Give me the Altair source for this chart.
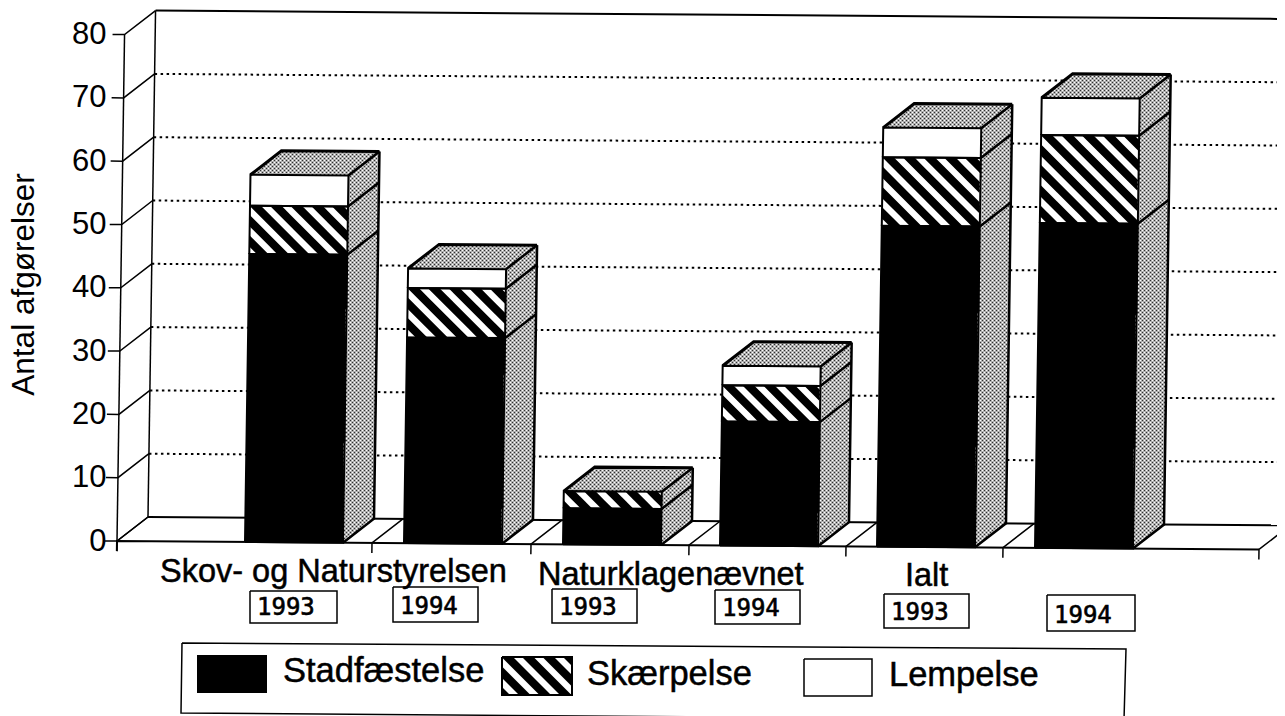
import altair as alt
import pandas as pd

# ---- chart values ----
years = ["1993", "1994", "1993", "1994", "1993", "1994"]
groups = ["Skov- og Naturstyrelsen", "Naturklagenævnet", "Ialt"]
series = ["Stadfæstelse", "Skærpelse", "Lempelse"]
stadfaestelse = [45.5, 32.5, 5.7, 19.6, 50.7, 51.3]
skaerpelse = [7.6, 7.8, 2.7, 5.7, 10.8, 13.9]
lempelse = [4.9, 3.1, 0.0, 3.1, 4.7, 5.9]
y_ticks = [0, 10, 20, 30, 40, 50, 60, 70, 80]
y_title = "Antal afgørelser"

# ---- layout of the scanned page (separate from the values) ----
X0, Y0, SY = 117.0, 541.0, 6.33
LEAN, SLOPE = 0.0149, 0.0074
DX, DY = 31.0, 24.0
BAR_LEFT = [245, 404, 563, 720, 877, 1035]
BAR_W = 98
CAT_TICKS = [0, 255, 414, 572, 729, 886, 1142]
WALL_END = 1160
FONT = "Liberation Sans"
MONO = "DejaVu Sans Mono"
YEAR_BOX = [(250, 337, 591, 623), (393, 478, 587, 622), (552, 637, 589, 623),
            (715, 800, 590, 624), (884, 969, 594, 628), (1047, 1135, 595, 631)]
GROUP_POS = [(160, 582), (538, 585), (905, 586)]
LEG_POS = [(283, 682), (587, 685), (889, 686)]
LEG_BOX = [(182, 643), (1126, 649), (1124, 720), (181, 713)]
SWATCH = [(197, 267, 655, 693), (502, 572, 657, 695), (804, 872, 659, 696)]
PERIOD, WHITE_W, PHASE = 20.5, 9.0, 11.0


def P(u, v, d=0.0):
    return (X0 + u + LEAN * v * SY + d * DX, Y0 + SLOPE * u - v * SY - d * DY)


def val(py):
    return (Y0 - py) / SY


def clip(poly, a, b, c):
    """keep part of poly where a*x + b*y <= c"""
    out = []
    n = len(poly)
    for i in range(n):
        p, q = poly[i], poly[(i + 1) % n]
        fp = a * p[0] + b * p[1] - c
        fq = a * q[0] + b * q[1] - c
        if fp <= 0:
            out.append(p)
        if fp * fq < 0:
            t = fp / (fp - fq)
            out.append((p[0] + t * (q[0] - p[0]), p[1] + t * (q[1] - p[1])))
    return out


black_faces, dark_faces, white_faces, outlines, dots, stripes = [], [], [], [], [], []
pid = [0]


def area_rows(poly, store):
    pid[0] += 1
    xs = sorted({round(p[0], 3) for p in poly})
    n = len(poly)
    for x in xs:
        ys = []
        for i in range(n):
            p, q = poly[i], poly[(i + 1) % n]
            lo, hi = sorted((p[0], q[0]))
            if lo - 1e-3 <= x <= hi + 1e-3:
                if abs(q[0] - p[0]) < 1e-6:
                    ys += [p[1], q[1]]
                else:
                    t = min(1, max(0, (x - p[0]) / (q[0] - p[0])))
                    ys.append(p[1] + t * (q[1] - p[1]))
        store.append(dict(id=pid[0], x=x, y=val(min(ys)), top2=val(max(ys))))


def line(points, w=1.5, closed=False):
    pid[0] += 1
    pts = list(points) + ([points[0]] if closed else [])
    for i, p in enumerate(pts):
        outlines.append(dict(id=pid[0], i=i, x=p[0], y=val(p[1]), w=w))


def inside(poly, x, y):
    sign = 0
    n = len(poly)
    for i in range(n):
        p, q = poly[i], poly[(i + 1) % n]
        c = (q[0] - p[0]) * (y - p[1]) - (q[1] - p[1]) * (x - p[0])
        if c != 0:
            s = 1 if c > 0 else -1
            if sign and s != sign:
                return False
            sign = s
    return True


def stipple(poly):
    area_rows(poly, dark_faces)
    x_lo, x_hi = min(p[0] for p in poly), max(p[0] for p in poly)
    y_lo, y_hi = min(p[1] for p in poly), max(p[1] for p in poly)
    row = int(y_lo // 2)
    while row * 2 <= y_hi:
        y = row * 2 + 0.5
        x = (int(x_lo) // 4) * 4 + (2 if row % 2 else 0) + 0.5
        while x <= x_hi:
            if inside(poly, x, y):
                dots.append(dict(x=x, y=val(y)))
            x += 4
        row += 1


def hatch(poly):
    area_rows(poly, black_faces)
    x0, y0 = min(poly, key=lambda p: (p[1], p[0]))
    c0 = x0 - y0 + PHASE
    for k in range(-30, 30):
        c = c0 + k * PERIOD
        s = clip(clip(poly, -1, 1, -c), 1, -1, c + WHITE_W)
        if len(s) >= 3:
            area_rows(s, stripes)


# ---- bars ----
for b, left in enumerate(BAR_LEFT):
    u0 = left - X0
    u1 = u0 + BAR_W
    levels = [0.0]
    for s in (stadfaestelse, skaerpelse, lempelse):
        levels.append(levels[-1] + s[b])
    top = levels[-1]
    stipple([P(u1, 0), P(u1, 0, 1), P(u1, top, 1), P(u1, top)])
    stipple([P(u0, top), P(u1, top), P(u1, top, 1), P(u0, top, 1)])
    for k in range(3):
        if levels[k + 1] - levels[k] <= 0:
            continue
        face = [P(u0, levels[k]), P(u1, levels[k]), P(u1, levels[k + 1]), P(u0, levels[k + 1])]
        if k == 1:
            hatch(face)
        elif k == 0:
            area_rows(face, black_faces)
        else:
            area_rows(face, white_faces)
        line(face, 2.0, True)
        line([P(u1, levels[k + 1]), P(u1, levels[k + 1], 1)], 2.5)
    line([P(u1, 0), P(u1, 0, 1), P(u1, top, 1)], 2.5)
    line([P(u0, top), P(u0, top, 1), P(u1, top, 1)], 3.0)

# ---- walls, floor, axis drawing ----
grid_rows = []
wall_lines = []
for v in y_ticks[1:-1]:
    for i, u in enumerate((0, WALL_END)):
        x, y = P(u, v, 1)
        grid_rows.append(dict(id=v, i=i, x=x, y=val(y)))


def back(points, w=1.5):
    pid[0] += 1
    for i, p in enumerate(points):
        wall_lines.append(dict(id=pid[0], i=i, x=p[0], y=val(p[1]), w=w))


back([P(0, 0), P(0, 80)], 1.5)
back([P(0, 0, 1), P(0, 80, 1)], 1.5)
back([P(0, 80, 1), P(WALL_END, 80, 1)], 2.0)
back([P(0, 0, 1), P(WALL_END, 0, 1)], 2.0)
back([P(0, -1.6), P(0, 0), P(CAT_TICKS[-1], 0)], 2.0)
for v in y_ticks:
    back([P(-12, v), P(0, v), P(0, v, 1)], 1.5)
for u in CAT_TICKS:
    back([P(u, -1.6), P(u, 0), P(u, 0, 1)], 1.5)

# ---- year boxes, legend ----
labels = []
for (x0, x1, y0, y1), yr in zip(YEAR_BOX, years):
    line([(x0, y0), (x1, y0), (x1, y1), (x0, y1)], 1.5, True)
    labels.append(dict(x=x0 + 7, y=val(y1 - 8), t=yr))

line(LEG_BOX, 1.5, True)
(x0, x1, y0, y1) = SWATCH[0]
area_rows([(x0, y0), (x1, y0), (x1, y1), (x0, y1)], black_faces)
(x0, x1, y0, y1) = SWATCH[1]
hatch([(x0, y0), (x1, y0), (x1, y1), (x0, y1)])
line([(x0, y0), (x1, y0), (x1, y1), (x0, y1)], 2.0, True)
(x0, x1, y0, y1) = SWATCH[2]
line([(x0, y0), (x1, y0), (x1, y1), (x0, y1)], 1.5, True)

group_text = [dict(x=p[0], y=val(p[1]), t=t) for p, t in zip(GROUP_POS, groups)]
legend_text = [dict(x=p[0], y=val(p[1]), t=t) for p, t in zip(LEG_POS, series)]

# ---- scales: x reads in page columns, y in Antal afgørelser ----
W, H = 1159, 708
xs = alt.Scale(domain=[118, 118 + W], nice=False, zero=False)
ys = alt.Scale(domain=[val(8 + H), val(8)], nice=False, zero=False)
X = alt.X("x:Q", scale=xs, axis=None)
Y = alt.Y("y:Q", scale=ys, axis=alt.Axis(
    values=y_ticks, grid=False, domain=False, ticks=False, labelPadding=12,
    labelFont=FONT, labelFontSize=31, labelColor="black", labelOverlap=False,
    title=y_title, titleFont=FONT, titleFontSize=31.5, titleFontWeight="normal",
    titleColor="black", titleAngle=270, titleX=-78, titleY=276, titleAlign="center"))

frame = pd.DataFrame

base = alt.Chart(frame(wall_lines)).mark_line(color="black").encode(
    x=X, y=Y, detail="id:N", order="i:Q",
    strokeWidth=alt.StrokeWidth("w:Q", scale=None))
grid = alt.Chart(frame(grid_rows)).mark_line(
    color="black", strokeWidth=2, strokeDash=[2.5, 3.5]).encode(
    x=X, y=Y, detail="id:N", order="i:Q")


def area_layer(rows, colour):
    return alt.Chart(frame(rows)).mark_area(color=colour, opacity=1, orient="vertical").encode(
        x=X, y=Y, y2=alt.Y2("top2"), detail="id:N")


dot_layer = alt.Chart(frame(dots)).mark_square(size=5, color="white", opacity=1).encode(x=X, y=Y)
line_layer = alt.Chart(frame(outlines)).mark_line(color="black").encode(
    x=X, y=Y, detail="id:N", order="i:Q",
    strokeWidth=alt.StrokeWidth("w:Q", scale=None))


def text_layer(rows, font, size, weight):
    return alt.Chart(frame(rows)).mark_text(
        font=font, fontSize=size, align="left", baseline="alphabetic", color="black",
        stroke="black", strokeWidth=weight
    ).encode(x=X, y=Y, text="t:N")


chart = alt.layer(
    base, grid,
    area_layer(dark_faces, "#303030"), area_layer(black_faces, "black"),
    area_layer(white_faces, "white"), area_layer(stripes, "white"),
    dot_layer, line_layer,
    text_layer(labels, MONO, 24, 0.6),
    text_layer(group_text, FONT, 32.5, 0.5),
    text_layer(legend_text, FONT, 34.5, 0.5),
).properties(
    width=W, height=H,
    autosize=alt.AutoSizeParams(type="none", contains="content"),
    padding={"left": 110, "top": 0, "right": 0, "bottom": 0},
    background="white",
).configure_view(stroke=None)

chart.save("out.html", embed_options={"renderer": "svg", "actions": False})
